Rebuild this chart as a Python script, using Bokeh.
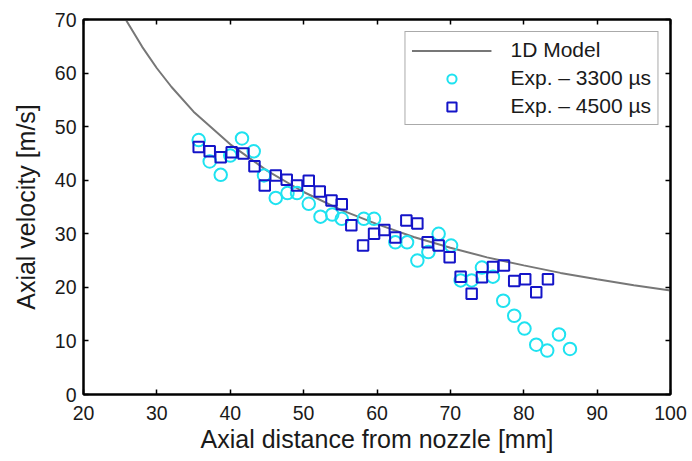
from bokeh.plotting import figure
from bokeh.models import Range1d, LinearAxis, Legend, LegendItem, FixedTicker, CustomJSTickFormatter
from bokeh.embed import file_html
from bokeh.resources import INLINE

# 1D model curve
model_x = [25.75, 28, 30, 32, 35, 40, 45, 50, 55, 60, 65, 70, 75, 80, 85, 90, 95, 100]
model_y = [70.0, 64.9, 60.9, 57.4, 52.8, 46.7, 41.8, 37.8, 34.5, 31.8, 29.4, 27.4, 25.6, 24.1, 22.7, 21.5, 20.4, 19.4]

# Exp. - 3300 us (circles)
exp3300_x = [35.7, 37.2, 38.7, 40.0, 41.6, 43.2, 44.6, 46.2, 47.8, 49.1, 50.7, 52.3, 53.9, 55.2,
             58.2, 59.6, 62.5, 64.1, 65.5, 67.0, 68.4, 70.1, 71.4, 72.9, 74.3, 75.8, 77.2, 78.7,
             80.1, 81.7, 83.2, 84.8, 86.3]
exp3300_y = [47.5, 43.5, 41.0, 44.6, 47.8, 45.4, 40.9, 36.7, 37.6, 37.6, 35.6, 33.2, 33.6, 32.8,
             32.8, 32.8, 28.4, 28.4, 25.0, 26.6, 30.0, 27.8, 21.3, 21.3, 23.7, 22.0, 17.5, 14.7,
             12.3, 9.3, 8.2, 11.2, 8.5]

# Exp. - 4500 us (squares)
exp4500_x = [35.7, 37.2, 38.7, 40.2, 41.8, 43.3, 44.7, 46.2, 47.7, 49.1, 50.7, 52.2, 53.8, 55.2,
             56.5, 58.1, 59.6, 61.0, 62.5, 64.0, 65.5, 66.9, 68.4, 69.9, 71.4, 72.9, 74.3, 75.8,
             77.3, 78.7, 80.2, 81.7, 83.3]
exp4500_y = [46.2, 45.4, 44.3, 45.2, 45.0, 42.6, 39.0, 40.9, 40.1, 39.0, 39.9, 37.9, 36.2, 35.5,
             31.6, 27.8, 30.0, 30.7, 29.3, 32.5, 31.9, 28.4, 27.8, 25.6, 22.0, 18.8, 21.9, 23.8,
             24.1, 21.2, 21.5, 19.1, 21.5]

x_ticks = [20, 30, 40, 50, 60, 70, 80, 90, 100]
y_ticks = [0, 10, 20, 30, 40, 50, 60, 70]

FONT = "Liberation Sans"
TXT = "#1a1a1a"

p = figure(width=692, height=461, output_backend="svg", toolbar_location=None,
           x_range=Range1d(20, 100), y_range=Range1d(0, 70),
           min_border_left=83, min_border_right=22, min_border_top=19, min_border_bottom=67)
p.background_fill_color = "white"
p.border_fill_color = "white"
p.grid.visible = False
p.outline_line_color = "black"
p.outline_line_width = 2

def style_axis(ax, show_labels=True):
    ax.axis_line_color = "black"
    ax.axis_line_width = 2
    ax.major_tick_in = 5
    ax.major_tick_out = 0
    ax.major_tick_line_width = 1.5
    ax.major_tick_line_color = "black"
    ax.minor_tick_line_color = None
    ax.major_label_text_font = FONT
    ax.major_label_text_color = TXT
    ax.major_label_text_font_size = "19.5px"
    if not show_labels:
        ax.formatter = CustomJSTickFormatter(code="return '';")
        ax.major_label_standoff = 0

xa = p.xaxis[0]
ya = p.yaxis[0]
xa.ticker = FixedTicker(ticks=x_ticks)
ya.ticker = FixedTicker(ticks=y_ticks)
style_axis(xa)
style_axis(ya)
xa.major_label_standoff = 11
ya.major_label_standoff = 7
xa.axis_label = "Axial distance from nozzle [mm]"
ya.axis_label = "Axial velocity [m/s]"
for ax in (xa, ya):
    ax.axis_label_text_font = FONT
    ax.axis_label_text_font_size = "25px"
    ax.axis_label_text_font_style = "normal"
    ax.axis_label_text_color = TXT
xa.axis_label_standoff = 2
ya.axis_label_standoff = 12

top_ax = LinearAxis(ticker=FixedTicker(ticks=x_ticks))
right_ax = LinearAxis(ticker=FixedTicker(ticks=y_ticks))
style_axis(top_ax, show_labels=False)
style_axis(right_ax, show_labels=False)
p.add_layout(top_ax, "above")
p.add_layout(right_ax, "right")

r_model = p.line(model_x, model_y, line_color="#777777", line_width=2)
r_c = p.scatter(exp3300_x, exp3300_y, marker="circle", size=12.5, fill_alpha=0,
                line_color="#1fe2f0", line_width=2)
r_s = p.scatter(exp4500_x, exp4500_y, marker="square", size=10.5, fill_alpha=0,
                line_color="#1414c8", line_width=2)

legend = Legend(items=[
    LegendItem(label="1D Model", renderers=[r_model]),
    LegendItem(label="Exp. \u2013 3300 \u00b5s", renderers=[r_c]),
    LegendItem(label="Exp. \u2013 4500 \u00b5s", renderers=[r_s]),
], location="top_right")
legend.margin = 12
legend.padding = 6
legend.spacing = 4
legend.glyph_width = 80
legend.glyph_height = 23
legend.label_height = 23
legend.label_standoff = 19
legend.label_text_font = FONT
legend.label_text_font_size = "21px"
legend.label_text_color = TXT
legend.border_line_color = "#555555"
legend.border_line_width = 1.5
legend.background_fill_color = "white"
legend.background_fill_alpha = 1
p.add_layout(legend, "center")

open("out.html", "w").write(file_html(p, INLINE))
